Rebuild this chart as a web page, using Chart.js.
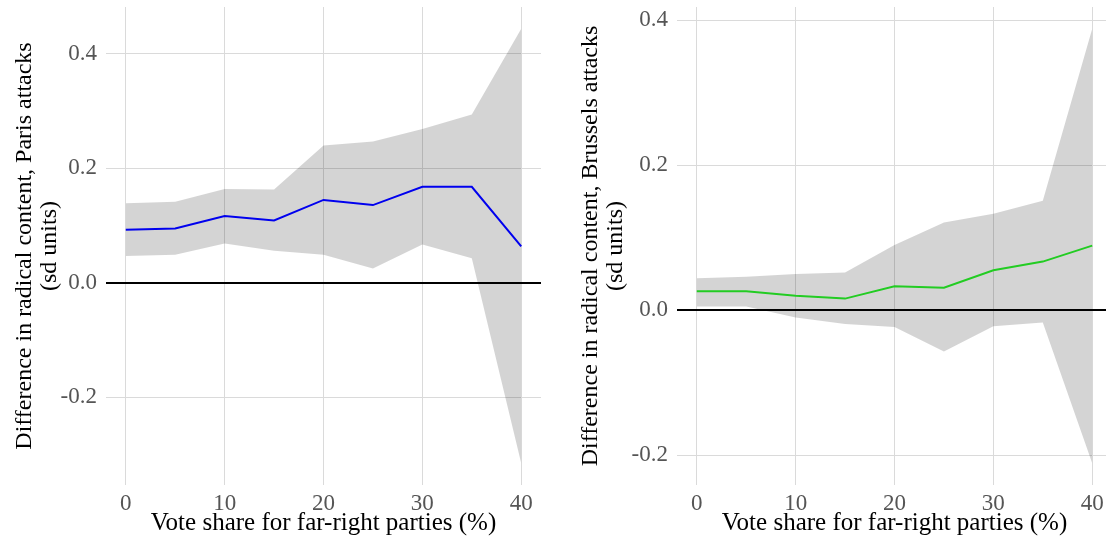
<!DOCTYPE html>
<html lang="en">
<head>
    <meta charset="UTF-8">
    <title>Radical content by far-right vote share</title>
    <script src="https://cdn.jsdelivr.net/npm/chart.js@4.4.1/dist/chart.umd.min.js"></script>
    <style>
        body { margin: 0; overflow: hidden; background: #fff; width: 1106px; height: 540px; position: relative; }
        canvas { position: absolute; top: 0; }
    </style>
</head>
<body>

<canvas id="parisChart" width="556" height="540" style="left:0px"></canvas>
<canvas id="brusselsChart" width="556" height="540" style="left:571px"></canvas>

<script>
    // vote share for far-right parties (%)
    var voteShare = [0, 5, 10, 15, 20, 25, 30, 35, 40];
    // Paris attacks: estimate + ribbon
    var parisEst   = [0.093, 0.095, 0.117, 0.109, 0.145, 0.136, 0.168, 0.168, 0.064];
    var parisUpper = [0.139, 0.142, 0.164, 0.163, 0.240, 0.247, 0.269, 0.294, 0.444];
    var parisLower = [0.047, 0.049, 0.069, 0.056, 0.049, 0.025, 0.067, 0.043, -0.315];
    // Brussels attacks: estimate + ribbon
    var brusselsEst   = [0.026, 0.026, 0.020, 0.016, 0.033, 0.031, 0.055, 0.067, 0.089];
    var brusselsUpper = [0.044, 0.046, 0.050, 0.052, 0.090, 0.121, 0.133, 0.151, 0.388];
    var brusselsLower = [0.005, 0.005, -0.010, -0.019, -0.023, -0.057, -0.022, -0.017, -0.211];
    // tick labels
    var xTicks = [0, 10, 20, 30, 40];
    var yTicks = [-0.2, 0.0, 0.2, 0.4];
    var xTitle = "Vote share for far-right parties (%)";

    var FONT = "'Liberation Serif', 'Times New Roman', serif";

    function pts(ys) {
        return voteShare.map(function(x, i){ return {x: x, y: ys[i]}; });
    }
    // ggplot-like 5% expansion
    function expand(lo, hi) {
        var d = (hi - lo) * 0.05;
        return [lo - d, hi + d];
    }

    function makeChart(id, est, upper, lower, lineColor, yTitle, titlePad) {
        var xr = expand(Math.min.apply(null, voteShare), Math.max.apply(null, voteShare));
        var yr = expand(Math.min.apply(null, lower), Math.max.apply(null, upper));
        return new Chart(id, {
            type: "line",
            data: {
                datasets: [
                    { data: pts(upper), fill: "+1", backgroundColor: "rgba(0,0,0,0.17)",
                      borderWidth: 0, pointRadius: 0, order: 2 },
                    { data: pts(lower), fill: false, borderWidth: 0, pointRadius: 0, order: 2 },
                    { data: pts(est), fill: false, borderColor: lineColor, borderWidth: 2,
                      pointRadius: 0, tension: 0, order: 0 }
                ]
            },
            options: {
                responsive: false,
                animation: false,
                devicePixelRatio: 1,
                layout: { padding: { left: 0, right: 15, top: 7, bottom: 0 } },
                plugins: { legend: { display: false }, tooltip: { enabled: false } },
                scales: {
                    x: {
                        type: "linear",
                        min: xr[0], max: xr[1],
                        afterBuildTicks: function(s){ s.ticks = xTicks.map(function(v){ return {value: v}; }); },
                        afterFit: function(s){ s.height = 55; s.paddingLeft = 0; s.paddingRight = 0; },
                        grid: { color: "#dadada", lineWidth: 1, drawTicks: false },
                        border: { display: false },
                        ticks: { color: "#555", padding: 5, maxRotation: 0,
                                 font: { family: FONT, size: 23 } },
                        title: { display: true, text: xTitle, color: "#000",
                                 padding: { top: 0, bottom: 3 },
                                 font: { family: FONT, size: 25, lineHeight: 1.05 } }
                    },
                    y: {
                        min: yr[0], max: yr[1],
                        afterBuildTicks: function(s){ s.ticks = yTicks.map(function(v){ return {value: v}; }); },
                        afterFit: function(s){ s.width = 106; s.paddingTop = 0; s.paddingBottom = 0; },
                        grid: {
                            drawTicks: false,
                            color: function(c){ return c.tick && c.tick.value === 0 ? "#000" : "#dadada"; },
                            lineWidth: function(c){ return c.tick && c.tick.value === 0 ? 2 : 1; }
                        },
                        border: { display: false },
                        ticks: { color: "#555", padding: 9,
                                 font: { family: FONT, size: 23 },
                                 callback: function(v){ return v.toFixed(1); } },
                        title: { display: true, text: yTitle, color: "#000",
                                 padding: { top: titlePad, bottom: 0 },
                                 font: { family: FONT, size: 24, lineHeight: 1.05 } }
                    }
                }
            }
        });
    }

    var parisChart = makeChart("parisChart", parisEst, parisUpper, parisLower, "#0000ee",
        ["Difference in radical content, Paris attacks", "(sd units)"], 12);
    var brusselsChart = makeChart("brusselsChart", brusselsEst, brusselsUpper, brusselsLower, "#22cc22",
        ["Difference in radical content, Brussels attacks", "(sd units)"], 7);
</script>

</body>
</html>
